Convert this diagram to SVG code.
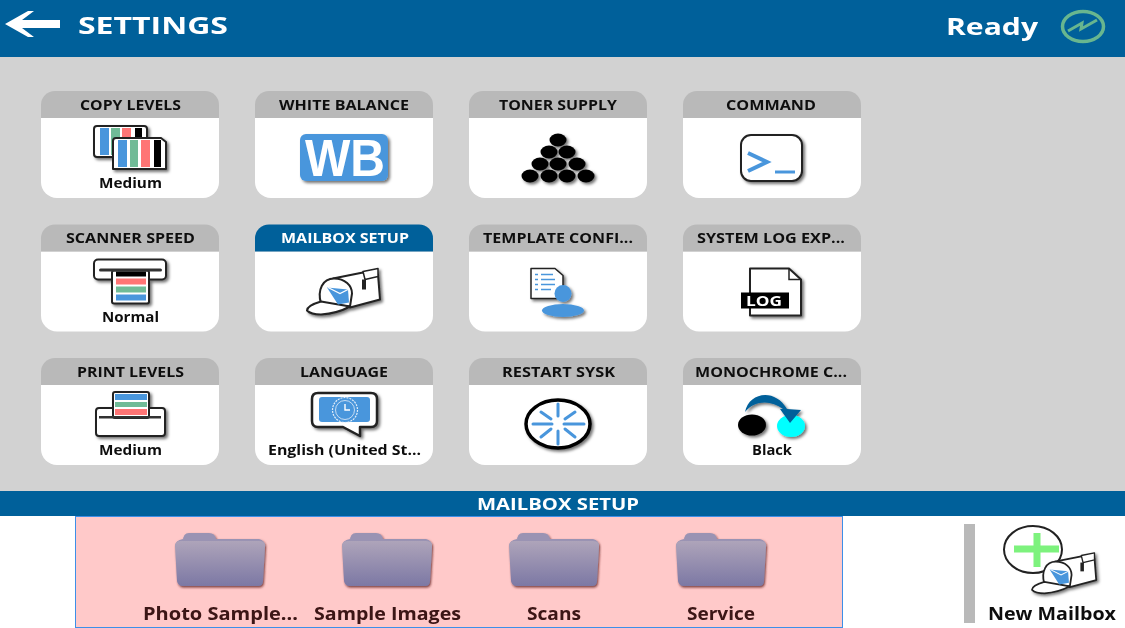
<svg xmlns="http://www.w3.org/2000/svg" width="1125" height="628" viewBox="0 0 1125 628">
<style>
text{font-family:"Open Sans","Liberation Sans",sans-serif;font-weight:700;fill:#111;text-anchor:start}
.h{font-size:14px}.v{font-size:14px}.f{font-size:17px;fill:#3a1212}.w{fill:#fff}
.card{fill:#fff}.head{fill:#b9b9b9}.headOn{fill:#00609a}
.ol{fill:#fff;stroke:#222;stroke-width:2;stroke-linejoin:round}
.blue{fill:#4a96dc}.green{fill:#6fbb97}.red{fill:#ff7575}.blk{fill:#000}
.sp{stroke:#4a96dc;stroke-width:3;stroke-linecap:round;fill:none}
.ic{filter:url(#sh)}
</style>
<defs>
<filter id="soft" x="0" y="0" width="100%" height="100%"><feGaussianBlur stdDeviation=".45"/></filter>
<filter id="sh" x="-20%" y="-20%" width="150%" height="150%"><feDropShadow dx="2" dy="2" stdDeviation="1.6" flood-color="#000" flood-opacity=".55"/></filter>
<filter id="shf" x="-10%" y="-10%" width="125%" height="125%"><feDropShadow dx="1" dy="1.5" stdDeviation="1.2" flood-color="#5a1e1e" flood-opacity=".8"/></filter>
<linearGradient id="fg" x1="0" y1="0" x2="0" y2="1"><stop offset="0" stop-color="#aea4ba"/><stop offset="1" stop-color="#7c78a4"/></linearGradient>
<path id="cardShape" d="M0 27H178V91a16 16 0 0 1-16 16H16A16 16 0 0 1 0 91Z"/>
<path id="headShape" d="M0 27V14A14 14 0 0 1 14 0H164A14 14 0 0 1 178 14V27Z"/>
<g id="mailbox">
<path class="ol" d="M26 11 L56 5 L71 7 L73 32 L43 40 Z"/>
<path class="ol" style="stroke-width:1.500" d="M56 4 L71 1 L71 9 L58 12 Z"/>
<rect x="55" y="12" width="4" height="10" fill="#222"/>
<path class="ol" d="M14 36 C10 22 16 11 27 11 C38 11 45 18 45 26 L43 39 Z"/>
<path class="ol" d="M14 34 Q0 38 0 43 Q4 47 14 47 Q30 46 43 39 Z"/>
<path class="blue" d="M20 20 L41 22 L42 35 L31 37 Z"/>
<path d="M21 20 L33 26 L41 22" fill="none" stroke="#fff" stroke-width="1.200"/>
</g>
<g id="folder">
<path fill="#9a93b3" d="M8 8Q8 0 14 0H34Q40 0 41 6H84Q90 7 90 14H0V14Q0 7 8 6Z"/>
<path fill="url(#fg)" d="M0 13Q0 8 6 8H84Q91 8 90 14L88 48Q88 53 83 53H8Q3 53 2 48Z"/>
</g>
</defs>

<g filter="url(#soft)">
<rect width="1125" height="628" fill="#d2d2d2"/>

<g id="title-bar">
<rect width="1125" height="57" fill="#00609a"/>
<path fill="#fff" d="M5 24 L28 11 L34 11 L22 20 H60 V28 H22 L34 37 H28 Z"/>
<text x="78" y="34" textLength="150" lengthAdjust="spacingAndGlyphs" style="font-size:24px;fill:#fff">SETTINGS</text>
<text x="946" y="35" textLength="92" lengthAdjust="spacingAndGlyphs" style="font-size:24px;fill:#fff">Ready</text>
<ellipse cx="1083" cy="26.500" rx="20.500" ry="15" fill="none" stroke="#68b68f" stroke-width="3.500"/>
<path d="M1068 31 L1082 23 L1081 29 L1097 20" fill="none" stroke="#68b68f" stroke-width="3"/>
</g>

<g id="card-copy-levels" transform="translate(41 91)">
<use href="#cardShape" class="card"/><use href="#headShape" class="head"/>
<text class="h" x="39" y="18.500" textLength="101" lengthAdjust="spacingAndGlyphs">COPY LEVELS</text>
<g class="ic">
<rect class="ol" x="53" y="35" width="53" height="31" rx="3"/>
<rect class="blue" x="59" y="37" width="9" height="27"/><rect class="green" x="70" y="37" width="9" height="27"/><rect class="red" x="81" y="37" width="9" height="27"/><rect class="blk" x="94" y="37" width="7" height="27"/>
<path class="ol" d="M75 47 H120 L125 51 V78 H72 V50 Q72 47 75 47Z"/>
<rect class="blue" x="77" y="49" width="9" height="27"/><rect class="green" x="89" y="49" width="8" height="27"/><rect class="red" x="100" y="49" width="9" height="27"/><rect class="blk" x="113" y="49" width="7" height="27"/>
</g>
<text class="v" x="58" y="97" textLength="63" lengthAdjust="spacingAndGlyphs">Medium</text>
</g>

<g id="card-white-balance" transform="translate(255 91)">
<use href="#cardShape" class="card"/><use href="#headShape" class="head"/>
<text class="h" x="24" y="18.500" textLength="130" lengthAdjust="spacingAndGlyphs">WHITE BALANCE</text>
<rect class="blue ic" x="45" y="43" width="88" height="47" rx="6"/>
<text x="50" y="85" textLength="80" lengthAdjust="spacingAndGlyphs" style="font-family:'Liberation Sans',sans-serif;font-size:52px;fill:#fff">WB</text>
</g>

<g id="card-toner-supply" transform="translate(469 91)">
<use href="#cardShape" class="card"/><use href="#headShape" class="head"/>
<text class="h" x="30" y="18.500" textLength="118" lengthAdjust="spacingAndGlyphs">TONER SUPPLY</text>
<g class="ic" fill="#000">
<ellipse cx="89" cy="49" rx="8.500" ry="6.500"/>
<ellipse cx="80" cy="61" rx="8.500" ry="6.500"/><ellipse cx="98" cy="61" rx="8.500" ry="6.500"/>
<ellipse cx="71" cy="73" rx="8.500" ry="6.500"/><ellipse cx="89" cy="73" rx="8.500" ry="6.500"/><ellipse cx="108" cy="73" rx="8.500" ry="6.500"/>
<ellipse cx="61" cy="85" rx="8.500" ry="6.500"/><ellipse cx="80" cy="85" rx="8.500" ry="6.500"/><ellipse cx="98" cy="85" rx="8.500" ry="6.500"/><ellipse cx="117" cy="85" rx="8.500" ry="6.500"/>
</g>
</g>

<g id="card-command" transform="translate(683 91)">
<use href="#cardShape" class="card"/><use href="#headShape" class="head"/>
<text class="h" x="43" y="18.500" textLength="90" lengthAdjust="spacingAndGlyphs">COMMAND</text>
<rect class="ol ic" x="58" y="44" width="61" height="46" rx="10"/>
<path d="M65 62 L84 71 L65 80" fill="none" stroke="#4a96dc" stroke-width="4"/>
<path d="M92 81 H112" stroke="#4a96dc" stroke-width="3" fill="none"/>
</g>

<g id="card-scanner-speed" transform="translate(41 224.500)">
<use href="#cardShape" class="card"/><use href="#headShape" class="head"/>
<text class="h" x="25" y="18.500" textLength="129" lengthAdjust="spacingAndGlyphs">SCANNER SPEED</text>
<g class="ic">
<rect class="ol" x="53" y="35" width="72" height="20" rx="4"/>
<rect class="ol" x="71" y="46" width="37" height="33" rx="2"/>
<rect class="blk" x="75" y="47" width="30" height="5"/><rect class="red" x="75" y="54" width="30" height="6"/><rect class="green" x="75" y="62" width="30" height="6"/><rect class="blue" x="75" y="70" width="30" height="6"/>
<rect x="58" y="44" width="63" height="3" rx="1.500" fill="#333"/>
</g>
<text class="v" x="61" y="97" textLength="57" lengthAdjust="spacingAndGlyphs">Normal</text>
</g>

<g id="card-mailbox-setup" transform="translate(255 224.500)">
<use href="#cardShape" class="card"/><use href="#headShape" class="headOn"/>
<text class="h w" x="26" y="18.500" textLength="128" lengthAdjust="spacingAndGlyphs">MAILBOX SETUP</text>
<use href="#mailbox" x="52" y="43" class="ic"/>
</g>

<g id="card-template-config" transform="translate(469 224.500)">
<use href="#cardShape" class="card"/><use href="#headShape" class="head"/>
<text class="h" x="14" y="18.500" textLength="150" lengthAdjust="spacingAndGlyphs">TEMPLATE CONFI...</text>
<g class="ic">
<path class="ol" style="stroke-width:1.500" d="M62 44 H86 L94 51 V74 H62 Z"/>
<path d="M66 50H69M66 55H69M66 60H69M66 65H69" stroke="#4a96dc" stroke-width="1.500"/>
<path d="M72 50H84M72 55H86M72 60H86M72 65H82" stroke="#4a96dc" stroke-width="1.500"/>
<circle class="blue" cx="94" cy="69" r="8.500"/>
<ellipse class="blue" cx="94" cy="86" rx="21" ry="6.500"/>
</g>
</g>

<g id="card-system-log" transform="translate(683 224.500)">
<use href="#cardShape" class="card"/><use href="#headShape" class="head"/>
<text class="h" x="14" y="18.500" textLength="148" lengthAdjust="spacingAndGlyphs">SYSTEM LOG EXP...</text>
<path class="ol ic" d="M67 44 H106 L118 55 V91 H67 Z"/>
<path d="M106 44 V55 H118" fill="none" stroke="#222" stroke-width="1.500"/>
<rect x="58" y="68" width="48" height="16" fill="#000"/>
<text x="63" y="81" textLength="36" lengthAdjust="spacingAndGlyphs" style="font-size:14px;fill:#fff">LOG</text>
</g>

<g id="card-print-levels" transform="translate(41 358)">
<use href="#cardShape" class="card"/><use href="#headShape" class="head"/>
<text class="h" x="36" y="18.500" textLength="107" lengthAdjust="spacingAndGlyphs">PRINT LEVELS</text>
<g class="ic">
<rect class="ol" x="55" y="50" width="69" height="28" rx="3"/>
<rect class="ol" x="72" y="34" width="36" height="26" rx="2"/>
<rect class="blue" x="74" y="36" width="32" height="6"/><rect class="green" x="74" y="44" width="32" height="5"/><rect class="red" x="74" y="51" width="32" height="6"/>
<rect x="58" y="58" width="62" height="2.500" fill="#333"/>
</g>
<text class="v" x="58" y="97" textLength="63" lengthAdjust="spacingAndGlyphs">Medium</text>
</g>

<g id="card-language" transform="translate(255 358)">
<use href="#cardShape" class="card"/><use href="#headShape" class="head"/>
<text class="h" x="45" y="18.500" textLength="88" lengthAdjust="spacingAndGlyphs">LANGUAGE</text>
<path class="ol ic" style="stroke-width:2.500" d="M63 35 H116 Q122 35 122 41 V63 Q122 69 116 69 H105 V78 L88 69 H63 Q57 69 57 63 V41 Q57 35 63 35Z"/>
<rect class="blue" x="64" y="39" width="51" height="25" rx="3"/>
<circle cx="90" cy="52" r="12.500" fill="none" stroke="#e3eef9" stroke-width="1.200" stroke-dasharray="2 1"/>
<circle cx="90" cy="52" r="9.500" fill="none" stroke="#e3eef9" stroke-width=".8"/>
<path d="M90 46 V52 H95" fill="none" stroke="#fff" stroke-width="1.400"/>
<text class="v" x="13" y="97" textLength="153" lengthAdjust="spacingAndGlyphs">English (United St...</text>
</g>

<g id="card-restart" transform="translate(469 358)">
<use href="#cardShape" class="card"/><use href="#headShape" class="head"/>
<text class="h" x="33" y="18.500" textLength="113" lengthAdjust="spacingAndGlyphs">RESTART SYSK</text>
<ellipse class="ol ic" style="stroke:#000;stroke-width:3.500" cx="89" cy="66" rx="32" ry="24"/>
<path class="sp" d="M89 46V58M89 73V86M64 66H83M95 66H115M72 54L82 61M106 54L96 61M72 79L82 71M106 79L96 71"/>
</g>

<g id="card-monochrome" transform="translate(683 358)">
<use href="#cardShape" class="card"/><use href="#headShape" class="head"/>
<text class="h" x="12" y="18.500" textLength="152" lengthAdjust="spacingAndGlyphs">MONOCHROME C...</text>
<g class="ic">
<ellipse cx="69" cy="67" rx="14" ry="10.500" fill="#000"/>
<ellipse cx="108" cy="68" rx="14" ry="11" fill="#00ffff"/>
<path fill="#00609a" d="M62 54 C66 34 92 30 104 51 L118 52 L107 65 L97 51 L100 51 C88 42 72 42 62 54Z"/>
</g>
<text class="v" x="69" y="97" textLength="40" lengthAdjust="spacingAndGlyphs">Black</text>
</g>

<g id="mailbox-bar">
<rect y="491" width="1125" height="25" fill="#00609a"/>
<text x="477" y="510" textLength="162" lengthAdjust="spacingAndGlyphs" style="font-size:16px;fill:#fff">MAILBOX SETUP</text>
<rect y="516" width="1125" height="112" fill="#fff"/>
</g>

<g id="mailbox-list">
<rect x="75.500" y="516.500" width="767" height="111" fill="#ffc9c9" stroke="#3d8fe8"/>
</g>
<g id="folder-photo"><use href="#folder" x="175" y="533" filter="url(#shf)"/><text class="f" x="143" y="620" textLength="155" lengthAdjust="spacingAndGlyphs">Photo Sample...</text></g>
<g id="folder-sample"><use href="#folder" x="342" y="533" filter="url(#shf)"/><text class="f" x="314" y="620" textLength="147" lengthAdjust="spacingAndGlyphs">Sample Images</text></g>
<g id="folder-scans"><use href="#folder" x="509" y="533" filter="url(#shf)"/><text class="f" x="527" y="620" textLength="54" lengthAdjust="spacingAndGlyphs">Scans</text></g>
<g id="folder-service"><use href="#folder" x="676" y="533" filter="url(#shf)"/><text class="f" x="687" y="620" textLength="68" lengthAdjust="spacingAndGlyphs">Service</text></g>

<g id="new-mailbox">
<rect x="964" y="524" width="11" height="99" fill="#b9b9b9"/>
<ellipse cx="1033" cy="549.500" rx="29" ry="23.500" fill="#fff" stroke="#222" stroke-width="2"/>
<path d="M1014 549H1059M1037 533V567" stroke="#7df27d" stroke-width="7" fill="none"/>
<use href="#mailbox" transform="translate(1032 552) scale(.88)" class="ic"/>
<text x="988" y="620" textLength="128" lengthAdjust="spacingAndGlyphs" style="font-size:17px;fill:#111">New Mailbox</text>
</g>
</g>
</svg>
